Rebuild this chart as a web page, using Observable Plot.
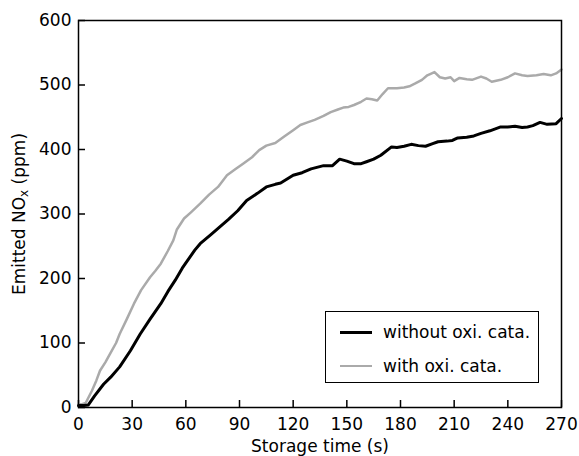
<!DOCTYPE html>
<html>
<head>
<meta charset="utf-8">
<script src="https://cdn.jsdelivr.net/npm/d3@7"></script>
<script src="https://cdn.jsdelivr.net/npm/@observablehq/plot@0.6"></script>
<style>
  body { margin: 0; background: #fff; }
  #wrap { position: relative; width: 579px; height: 456px; font-family: "DejaVu Sans", sans-serif; }
  #legend { position: absolute; left: 325px; top: 311px; width: 212px; height: 70px; border: 1.5px solid #000; background: #fff; font-size: 17px; }
  .row { position: absolute; left: 0; height: 20px; display: flex; align-items: center; }
  .sw { width: 32px; margin-left: 14px; margin-right: 11px; }
</style>
</head>
<body>
<div id="wrap"></div>
<script>
// Series: without oxidation catalyst (black)
const tWithout = [0, 3, 5.5, 9, 14, 18, 23, 29, 34.5, 40, 46, 50, 54, 58, 61, 65, 68, 74, 79, 84, 89, 94, 100, 105, 110, 113, 120, 125, 130, 137, 142, 146, 150, 154, 158, 161, 165, 169, 175, 178, 182, 186, 190, 194, 198, 201, 206, 209, 212, 217, 221, 225, 230, 236, 240, 244, 248, 251, 254, 258, 262, 267, 270];
const vWithout = [3, 3, 4, 18, 36, 47, 63, 88, 114, 137, 161, 180, 197, 216, 228, 244, 254, 268, 280, 292, 305, 321, 332, 342, 346, 348, 360, 364, 370, 375, 375, 385, 382, 378, 378, 381, 385, 391, 404, 403, 405, 408, 406, 405, 409, 412, 413, 414, 418, 419, 421, 425, 429, 435, 435, 436, 434, 435, 437, 442, 439, 440, 448];
// Series: with oxidation catalyst (gray)
const tWith = [0, 2, 4, 7.5, 10, 12, 15, 18, 21, 23, 27, 31, 35, 40, 43, 46, 50, 53, 55, 59, 63, 68, 73, 78, 83, 88, 92, 97, 101, 105, 110, 115, 120, 124, 128, 132, 137, 141, 145, 148, 151, 154, 158, 161, 164, 167, 170, 173, 178, 182, 185, 188, 192, 195, 199, 202, 205, 208, 210, 213, 217, 220, 225, 228, 231, 236, 240, 244, 248, 251, 256, 260, 264, 267, 270];
const vWith = [5, 5, 7, 26, 42, 57, 70, 85, 100, 114, 137, 161, 182, 202, 212, 223, 243, 259, 276, 293, 303, 316, 330, 342, 360, 370, 378, 388, 399, 406, 410, 420, 430, 438, 442, 446, 452, 458, 462, 465, 466, 469, 474, 479, 478, 476, 486, 495, 495, 496, 498, 502, 508, 515, 520, 512, 510, 512, 506, 511, 509, 508, 513, 510, 505, 508, 512, 518, 515, 514, 515, 517, 515, 518, 524];

const seriesNames = ["without oxi. cata.", "with oxi. cata."];
const seriesColors = ["#000000", "#aaaaaa"];
const xTicks = [0, 30, 60, 90, 120, 150, 180, 210, 240, 270];
const yTicks = [0, 100, 200, 300, 400, 500, 600];
const xLabel = "Storage time (s)";
const yLabelParts = ["Emitted NO", "x", " (ppm)"];

const dWithout = tWithout.map((t, i) => ({t, v: vWithout[i]}));
const dWith = tWith.map((t, i) => ({t, v: vWith[i]}));

const W = 579, H = 456, mL = 78, mR = 18, mT = 20, mB = 49;
const fw = W - mL - mR, fh = H - mT - mB;

const chart = Plot.plot({
  width: W, height: H,
  marginLeft: mL, marginRight: mR, marginTop: mT, marginBottom: mB,
  style: {fontFamily: "DejaVu Sans, sans-serif", fontSize: "17px", color: "#000", background: "#fff"},
  x: {domain: [0, 270], ticks: xTicks, label: null},
  y: {domain: [0, 600], ticks: yTicks, label: null},
  marks: [
    Plot.axisX(xTicks, {tickSize: 0, tickPadding: 10, label: null, fontSize: 17}),
    Plot.axisY(yTicks, {tickSize: 0, tickPadding: 7, label: null, fontSize: 17}),
    Plot.tickX(xTicks, {x: d => d, insetTop: fh - 7, stroke: "#000", strokeWidth: 1.5}),
    Plot.tickY(yTicks, {y: d => d, insetRight: fw - 7, stroke: "#000", strokeWidth: 1.5}),
    Plot.line(dWith, {x: "t", y: "v", stroke: seriesColors[1], strokeWidth: 2.5}),
    Plot.line(dWithout, {x: "t", y: "v", stroke: seriesColors[0], strokeWidth: 3}),
    Plot.frame({stroke: "#000", strokeWidth: 1.5}),
    Plot.text([xLabel], {frameAnchor: "bottom", text: d => d, dy: 44, lineAnchor: "bottom", fontSize: 17, className: "xlab"}),
    Plot.text([yLabelParts.join("")], {frameAnchor: "left", textAnchor: "middle", text: d => d, rotate: -90, dx: -59, lineAnchor: "middle", fontSize: 17, className: "ylab"})
  ]
});

const wrap = document.getElementById("wrap");
wrap.appendChild(chart);

// Render subscript "x" in the y label
const ylabText = chart.querySelector(".ylab text");
if (ylabText) {
  ylabText.setAttribute("text-anchor", "middle");
  ylabText.textContent = "";
  yLabelParts.forEach((p, i) => {
    const ts = document.createElementNS("http://www.w3.org/2000/svg", "tspan");
    ts.textContent = p;
    if (i === 1) { ts.setAttribute("font-size", "12"); ts.setAttribute("dy", "3"); }
    if (i === 2) { ts.setAttribute("dy", "-3"); }
    ylabText.appendChild(ts);
  });
}

const legend = document.createElement("div");
legend.id = "legend";
seriesNames.forEach((name, i) => {
  const row = document.createElement("div");
  row.className = "row";
  row.style.top = (i === 0 ? 10 : 44) + "px";
  const sw = document.createElement("div");
  sw.className = "sw";
  sw.style.height = (i === 0 ? 3 : 2.5) + "px";
  sw.style.background = seriesColors[i];
  const tx = document.createElement("span");
  tx.textContent = name;
  row.appendChild(sw);
  row.appendChild(tx);
  legend.appendChild(row);
});
wrap.appendChild(legend);
</script>
</body>
</html>
